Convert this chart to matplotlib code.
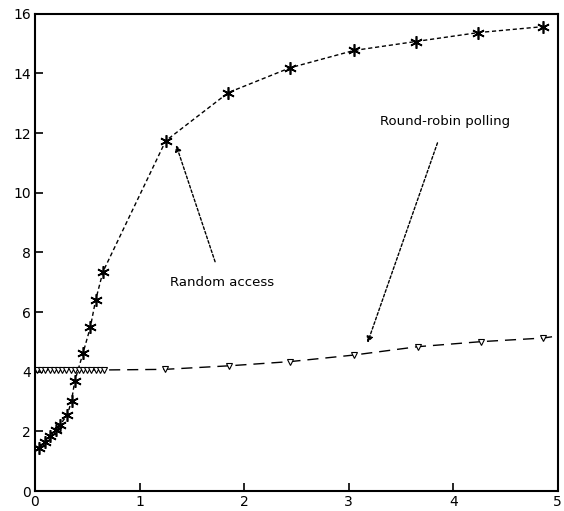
import matplotlib
matplotlib.use('Agg')
import matplotlib.pyplot as plt

# random access (stars)
ra_x = [0.04, 0.10, 0.14, 0.20, 0.24, 0.31, 0.35, 0.38, 0.46, 0.53, 0.58, 0.65,
        1.25, 1.85, 2.44, 3.05, 3.64, 4.24, 4.86]
ra_y = [1.45, 1.63, 1.83, 2.05, 2.22, 2.56, 3.03, 3.68, 4.63, 5.5, 6.4, 7.35,
        11.74, 13.36, 14.19, 14.77, 15.07, 15.37, 15.57]

# round-robin polling (triangles)
rr_x = [0.02, 0.06, 0.10, 0.14, 0.18, 0.22, 0.26, 0.30, 0.34, 0.38, 0.42, 0.46,
        0.50, 0.54, 0.58, 0.62, 0.66,
        1.24, 1.86, 2.44, 3.05, 3.66, 4.27, 4.86]
rr_y = [4.06, 4.05, 4.06, 4.05, 4.06, 4.05, 4.06, 4.05, 4.06, 4.05, 4.06, 4.05,
        4.06, 4.05, 4.06, 4.05, 4.06,
        4.08, 4.2, 4.34, 4.56, 4.84, 5.01, 5.13]

fig = plt.figure(figsize=(5.64, 5.11), dpi=100)
ax = fig.add_axes([0.062, 0.039, 0.927, 0.934])

ax.plot(ra_x, ra_y, color='black', lw=1, linestyle=(0, (3, 2)),
        marker=(6, 2, 0), markersize=9, markeredgecolor='black', markeredgewidth=1.2)
ax.plot(rr_x + [5.0], rr_y + [5.2], color='black', lw=1, linestyle=(0, (8, 5)),
        marker='v', markersize=5, markerfacecolor='white', markeredgewidth=0.8,
        markevery=list(range(len(rr_x))))

ax.annotate('Random access', xy=(1.35, 11.6), xytext=(1.79, 6.98),
            ha='center', va='center', fontsize=9.5,
            arrowprops=dict(arrowstyle='-|>', linestyle=(0, (2, 1.5)), color='black',
                            lw=1, shrinkA=9, shrinkB=0, mutation_scale=9))
ax.annotate('Round-robin polling', xy=(3.18, 4.97), xytext=(3.92, 12.38),
            ha='center', va='center', fontsize=9.5,
            arrowprops=dict(arrowstyle='-|>', linestyle=(0, (2, 1.5)), color='black',
                            lw=1, shrinkA=9, shrinkB=0, mutation_scale=9))

ax.set_xlim(0, 5)
ax.set_ylim(0, 16)
ax.set_xticks([0, 1, 2, 3, 4, 5])
ax.set_yticks([0, 2, 4, 6, 8, 10, 12, 14, 16])
ax.tick_params(direction='in', length=6, width=1.2, labelsize=10, pad=3)
for s in ax.spines.values():
    s.set_linewidth(1.5)

fig.savefig('out.png', dpi=100)
